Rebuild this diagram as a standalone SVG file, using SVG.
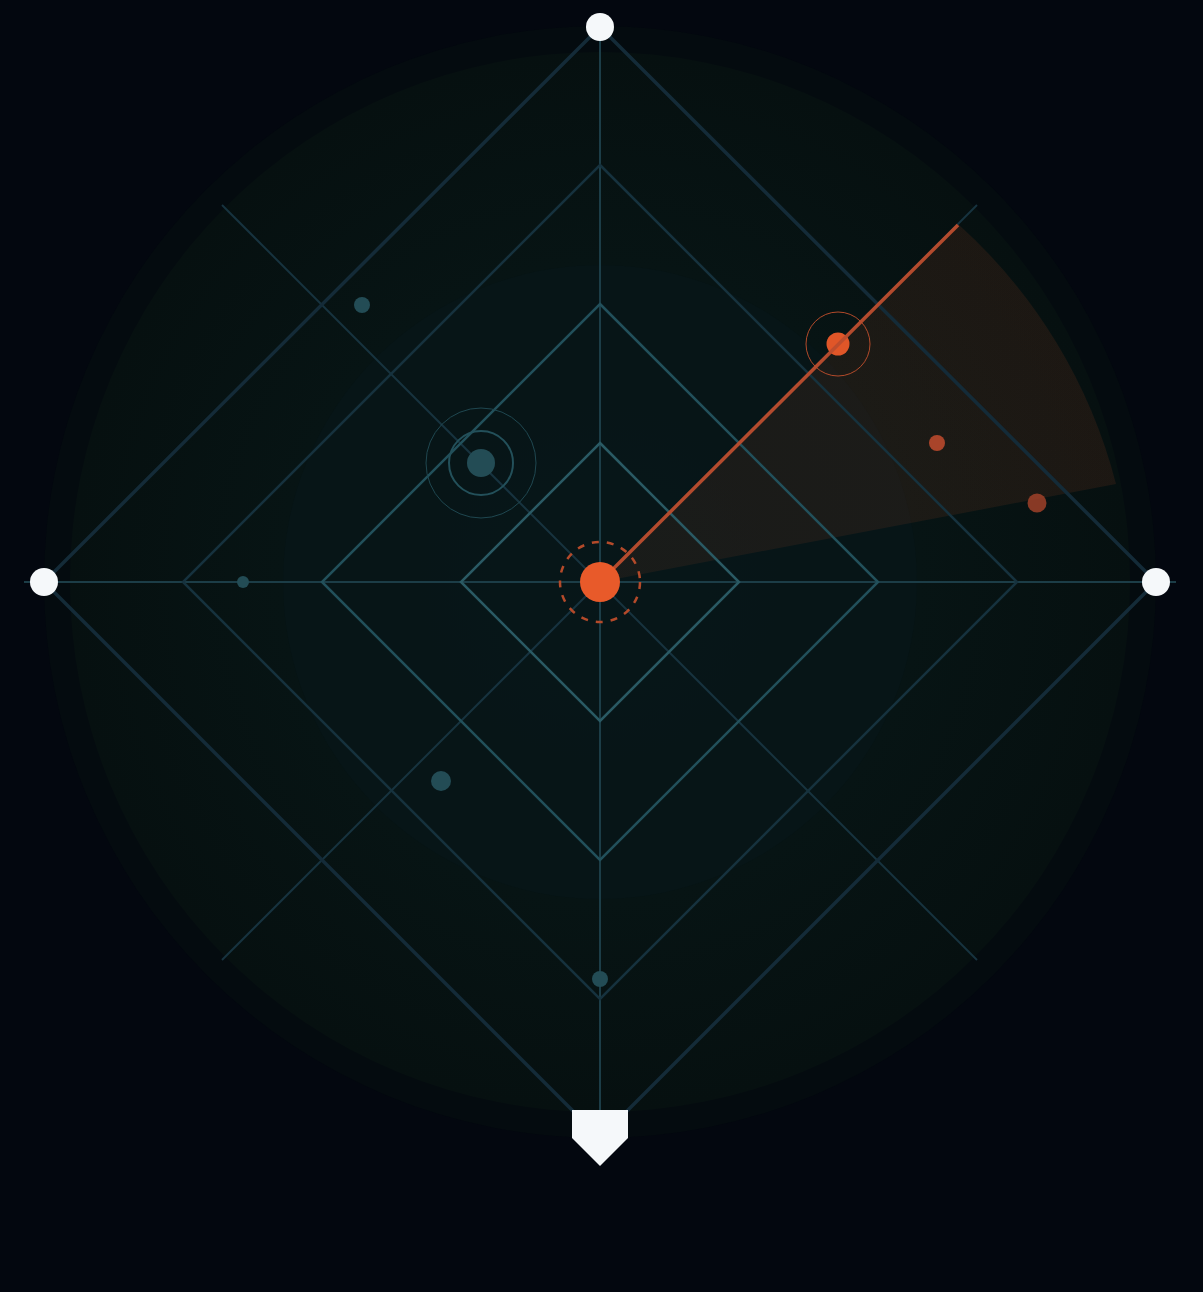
<svg xmlns="http://www.w3.org/2000/svg" width="1203" height="1292" viewBox="0 0 1203 1292">
<defs>
<radialGradient id="bgGlow" cx="600" cy="582" r="530" gradientUnits="userSpaceOnUse">
<stop offset="0" stop-color="#081a1b"/>
<stop offset="0.6" stop-color="#071414"/>
<stop offset="1" stop-color="#061010"/>
</radialGradient>
<radialGradient id="sweep" cx="600" cy="582" r="525" gradientUnits="userSpaceOnUse">
<stop offset="0" stop-color="#e85a2a" stop-opacity="0.08"/>
<stop offset="0.5" stop-color="#e85a2a" stop-opacity="0.09"/>
<stop offset="1" stop-color="#e85a2a" stop-opacity="0.1"/>
</radialGradient>
</defs>
<style>
.d1{fill:none;stroke:#2a5a64;stroke-width:2.5}
.d2{fill:none;stroke:#22505b;stroke-width:2.5}
.d3{fill:none;stroke:#16323e;stroke-width:2.5}
.d4{fill:none;stroke:#142b38;stroke-width:3.5}
.axis{stroke:#1c3d47;stroke-width:2}
.diag{stroke:#17333f;stroke-width:2}
.blip{fill:#234c55}
.white{fill:#f5f8fa}
</style>
<rect width="1203" height="1292" fill="#03070f"/>
<g id="background">
<circle cx="600" cy="582" r="556" fill="#040b0f"/>
<circle cx="600" cy="582" r="530" fill="url(#bgGlow)"/>
<circle cx="600" cy="582" r="317" fill="#071618" opacity="0.7"/>
</g>
<g id="sweep-wedge">
<path d="M600,582 L958,224 A525,525 0 0 1 1116,484 Z" fill="url(#sweep)"/>
</g>
<g id="grid">
<line class="axis" x1="600" y1="20" x2="600" y2="1112"/>
<line class="axis" x1="24" y1="582" x2="1176" y2="582"/>
<line class="diag" x1="222" y1="205" x2="977" y2="960"/>
<line class="diag" x1="977" y1="205" x2="222" y2="960"/>
<polygon class="d4" points="600,27 1156,582 600,1138 44,582"/>
<polygon class="d3" points="600,165 1017,582 600,999 183,582"/>
<polygon class="d2" points="600,304 878,582 600,860 322,582"/>
<polygon class="d1" points="600,443 739,582 600,721 461,582"/>
</g>
<g id="blips">
<circle class="blip" cx="362" cy="305" r="8"/>
<circle class="blip" cx="243" cy="582" r="6"/>
<circle class="blip" cx="441" cy="781" r="10"/>
<circle class="blip" cx="600" cy="979" r="8"/>
</g>
<g id="tracked-blip">
<circle cx="481" cy="463" r="55" fill="none" stroke="#1f4750" stroke-width="1"/>
<circle cx="481" cy="463" r="32" fill="none" stroke="#23505a" stroke-width="2"/>
<circle cx="481" cy="463" r="14" fill="#234c55"/>
</g>
<g id="target">
<circle cx="838" cy="344" r="32" fill="none" stroke="#b34a2a" stroke-width="1"/>
<circle cx="838" cy="344" r="11.5" fill="#e05628"/>
</g>
<g id="connectors">
<line x1="600" y1="582" x2="958" y2="225" stroke="#bc4d2e" stroke-width="3.5" opacity="0.95"/>
</g>
<g id="contacts">
<circle cx="937" cy="443" r="8" fill="#a9442a"/>
<circle cx="1037" cy="503" r="9.5" fill="#a9442a" opacity="0.8"/>
</g>
<g id="center">
<circle cx="600" cy="582" r="40" fill="none" stroke="#b44a2a" stroke-width="2.5" stroke-dasharray="7 8"/>
<circle cx="600" cy="582" r="20" fill="#e85a2a"/>
</g>
<g id="bases">
<circle id="second" class="white" cx="600" cy="27" r="14"/>
<circle id="third" class="white" cx="44" cy="582" r="14"/>
<circle id="first" class="white" cx="1156" cy="582" r="14"/>
<polygon id="home" class="white" points="572,1110 628,1110 628,1138 600,1166 572,1138"/>
</g>
</svg>
